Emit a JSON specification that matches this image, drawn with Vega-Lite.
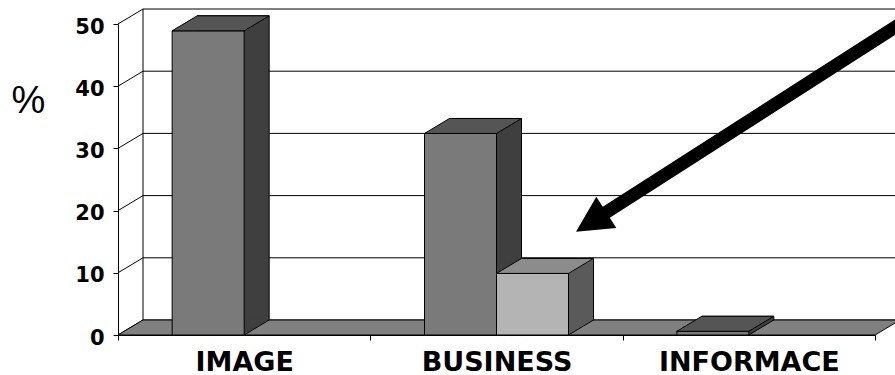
{
  "$schema": "https://vega.github.io/schema/vega-lite/v6.json",
  "width": 757,
  "height": 311,
  "autosize": {"type": "none"},
  "padding": {"left": 118, "top": 24, "right": 20, "bottom": 40},
  "background": "white",
  "config": {"view": {"stroke": null}},
  "datasets": {
    "bars": [
      {"kategorie": "IMAGE", "rada": "A", "hodnota": 48.9},
      {"kategorie": "BUSINESS", "rada": "A", "hodnota": 32.4},
      {"kategorie": "INFORMACE", "rada": "A", "hodnota": 0.6},
      {"kategorie": "BUSINESS", "rada": "B", "hodnota": 9.9}
    ],
    "ticks": [
      {"hodnota": 0}, {"hodnota": 10}, {"hodnota": 20}, {"hodnota": 30}, {"hodnota": 40}, {"hodnota": 50}
    ],
    "arrow": [
      {"kategorie": "BUSINESS", "hodnota": 16.6}
    ]
  },
  "encoding": {
    "x": {
      "field": "kategorie", "type": "nominal", "sort": null,
      "scale": {"domain": ["IMAGE", "BUSINESS", "INFORMACE"], "paddingInner": 0, "paddingOuter": 0},
      "axis": {
        "title": null, "labelAngle": 0, "tickBand": "extent", "domain": true, "domainColor": "black",
        "ticks": true, "tickColor": "black", "tickSize": 5, "labelPadding": 30, "labelBaseline": "alphabetic",
        "labelFont": "DejaVu Sans", "labelFontWeight": "bold", "labelFontSize": 27, "labelColor": "black", "labelLimit": 0, "grid": false
      }
    },
    "y": {
      "field": "hodnota", "type": "quantitative",
      "scale": {"domain": [0, 50], "nice": false, "zero": true},
      "axis": {
        "title": "%", "titleAngle": 0, "titleX": -90, "titleY": 88, "titleAlign": "center", "titleBaseline": "alphabetic",
        "titleFont": "Liberation Sans", "titleFontSize": 38, "titleFontWeight": "normal", "titleColor": "black",
        "values": [0, 10, 20, 30, 40, 50], "grid": false, "domainColor": "black", "tickColor": "black", "tickSize": 5,
        "labelPadding": 9, "labelBaseline": "alphabetic", "labelOffset": 9,
        "labelFont": "DejaVu Sans", "labelFontWeight": "bold", "labelFontSize": 21, "labelColor": "black"
      }
    }
  },
  "layer": [
    {
      "data": {"name": "ticks"},
      "mark": {"type": "point", "shape": "M -0.757 0 L -0.707 -0.03 L 0.807 -0.03", "size": 1000000, "filled": false, "stroke": "black", "strokeWidth": 1, "opacity": 1},
      "encoding": {"x": {"datum": "BUSINESS"}}
    },
    {
      "data": {"name": "ticks"},
      "transform": [{"filter": "datum.hodnota === 0"}],
      "mark": {"type": "rule", "color": "black", "strokeWidth": 1, "xOffset": -353.5, "yOffset": -15, "y2Offset": -15},
      "encoding": {"x": {"datum": "BUSINESS"}, "y2": {"datum": 50}}
    },
    {
      "data": {"name": "ticks"},
      "transform": [{"filter": "datum.hodnota === 0"}],
      "mark": {"type": "point", "shape": "M -0.757 0 L 0.757 0 L 0.807 -0.03 L -0.707 -0.03 Z", "size": 1000000, "filled": true, "fill": "#808080", "stroke": "black", "strokeWidth": 1, "opacity": 1},
      "encoding": {"x": {"datum": "BUSINESS"}}
    },
    {
      "data": {"name": "bars"},
      "transform": [{"filter": "datum.rada === 'A'"}],
      "mark": {"type": "bar", "width": 72, "xOffset": -11, "yOffset": -15, "y2Offset": -15, "fill": "#3f3f3f", "stroke": "black", "strokeWidth": 1, "opacity": 1}
    },
    {
      "data": {"name": "bars"},
      "transform": [{"filter": "datum.rada === 'A'"}],
      "mark": {"type": "point", "shape": "M 0 0 L 0.245 -0.15 L 0.245 -0.165 L 0 -0.165 Z", "size": 40000, "filled": true, "fill": "#3f3f3f", "strokeWidth": 0, "opacity": 1, "xOffset": 0},
      "encoding": {"y": {"datum": 0}}
    },
    {
      "data": {"name": "bars"},
      "transform": [{"filter": "datum.rada === 'A'"}],
      "mark": {"type": "point", "shape": "M 0 0 L 0.25 -0.15", "size": 40000, "filled": false, "stroke": "black", "strokeWidth": 1, "opacity": 1, "xOffset": 0},
      "encoding": {"y": {"datum": 0}}
    },
    {
      "data": {"name": "bars"},
      "transform": [{"filter": "datum.rada === 'A'"}],
      "mark": {"type": "bar", "width": 72, "xOffset": -36, "fill": "#7a7a7a", "stroke": "black", "strokeWidth": 1, "opacity": 1}
    },
    {
      "data": {"name": "bars"},
      "transform": [{"filter": "datum.rada === 'A'"}],
      "mark": {"type": "point", "shape": "M -0.36 0 L 0.36 0 L 0.61 -0.15 L -0.11 -0.15 Z", "size": 40000, "filled": true, "fill": "#555555", "stroke": "black", "strokeWidth": 1, "opacity": 1, "xOffset": -36}
    },
    {
      "data": {"name": "bars"},
      "transform": [{"filter": "datum.rada === 'B'"}],
      "mark": {"type": "bar", "width": 72, "xOffset": 61, "yOffset": -15, "y2Offset": -15, "fill": "#5a5a5a", "stroke": "black", "strokeWidth": 1, "opacity": 1}
    },
    {
      "data": {"name": "bars"},
      "transform": [{"filter": "datum.rada === 'B'"}],
      "mark": {"type": "point", "shape": "M 0 0 L 0.245 -0.15 L 0.245 -0.165 L 0 -0.165 Z", "size": 40000, "filled": true, "fill": "#5a5a5a", "strokeWidth": 0, "opacity": 1, "xOffset": 72},
      "encoding": {"y": {"datum": 0}}
    },
    {
      "data": {"name": "bars"},
      "transform": [{"filter": "datum.rada === 'B'"}],
      "mark": {"type": "point", "shape": "M 0 0 L 0.25 -0.15", "size": 40000, "filled": false, "stroke": "black", "strokeWidth": 1, "opacity": 1, "xOffset": 72},
      "encoding": {"y": {"datum": 0}}
    },
    {
      "data": {"name": "bars"},
      "transform": [{"filter": "datum.rada === 'B'"}],
      "mark": {"type": "bar", "width": 72, "xOffset": 36, "fill": "#b4b4b4", "stroke": "black", "strokeWidth": 1, "opacity": 1}
    },
    {
      "data": {"name": "bars"},
      "transform": [{"filter": "datum.rada === 'B'"}],
      "mark": {"type": "point", "shape": "M -0.36 0 L 0.36 0 L 0.61 -0.15 L -0.11 -0.15 Z", "size": 40000, "filled": true, "fill": "#8c8c8c", "stroke": "black", "strokeWidth": 1, "opacity": 1, "xOffset": 36}
    },
    {
      "data": {"name": "arrow"},
      "mark": {"type": "point", "shape": "M 0 0 L 0.0508 -0.0875 L 0.067 -0.0623 L 0.8333 -0.5538 L 0.8508 -0.5263 L 0.0845 -0.0348 L 0.1008 -0.0095 Z", "size": 640000, "filled": true, "fill": "black", "strokeWidth": 0, "opacity": 1, "xOffset": 79.5}
    }
  ]
}
